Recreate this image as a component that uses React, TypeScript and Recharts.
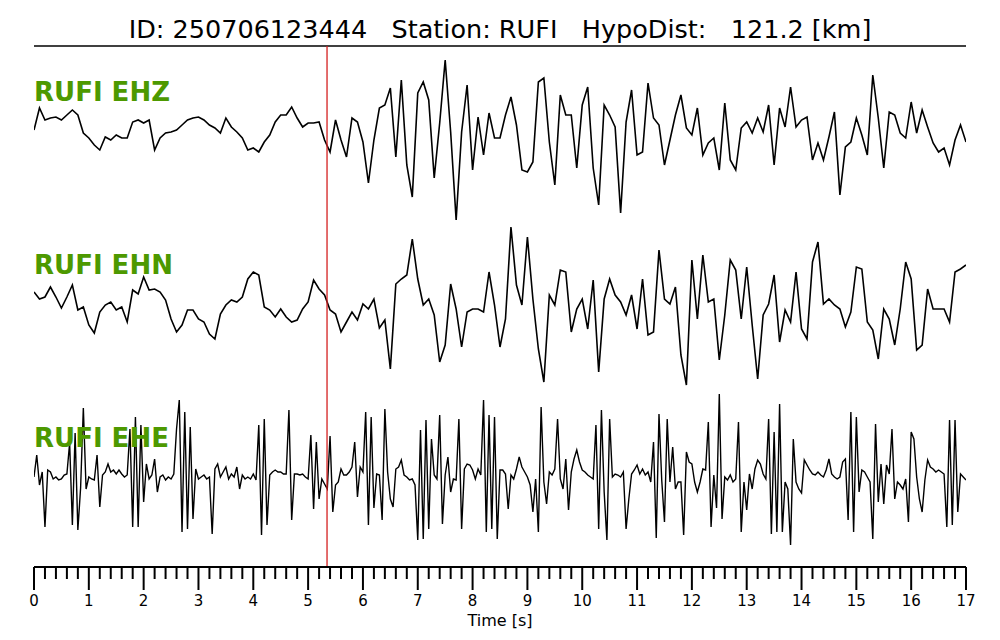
import React from 'react';
import { LineChart, Line, XAxis, YAxis, ReferenceLine } from 'recharts';

const titleText = 'ID: 250706123444   Station: RUFI   HypoDist:   121.2 [km]';
const traceLabels = ['RUFI EHZ', 'RUFI EHN', 'RUFI EHE'];
const pickTime = 5.345;
const majorTicks = [0, 1, 2, 3, 4, 5, 6, 7, 8, 9, 10, 11, 12, 13, 14, 15, 16, 17];
const minorOffsets = [0.2, 0.4, 0.6, 0.8];

// sample spacing (s) of the values
const dtZ = 0.1;
const dtN = 0.1;
const dtE = 0.05;

// amplitudes, arbitrary units (up is positive)
const ehz = [
  5, 27, 15, 17, 18, 15, 20, 25, 20, 2,
  -3, -10, -15, -2, -5, 0, -3, -3, 13, 15,
  12, 15, -15, -3, 2, 3, 5, 10, 15, 17,
  18, 15, 10, 7, 2, 17, 8, 3, -3, -15,
  -13, -17, -7, 0, 13, 20, 20, 28, 17, 8,
  12, 12, 13, -5, -17, 15, -5, -22, 17, 13,
  -7, -48, -5, 27, 30, 47, -22, 55, -30, -62,
  42, 53, 35, -43, 12, 75, 3, -85, 3, 50,
  -35, 18, -20, 22, -3, -3, 20, 38, 10, -35,
  -37, -27, 53, 57, -7, -50, 40, 20, 20, -33,
  30, 48, -33, -70, 30, 20, 8, -78, 13, 45,
  -20, -17, 52, 17, 10, -30, -5, 20, 40, 7,
  0, 27, -20, -8, -3, -35, 32, -25, -35, 7,
  13, 2, 17, 3, 30, -30, 27, 8, 48, 8,
  15, 18, -25, -8, -25, -2, 23, -60, -12, -7,
  17, 0, -20, 60, 17, -33, 23, 20, 2, -3,
  33, 2, 25, 8, -8, -17, -13, -30, -5, 10,
  -7,
];

const ehn = [
  8, 1, 3, 13, 3, -8, 3, 15, -10, -7,
  -25, -33, -12, -5, -2, -10, -7, -22, 10, 6,
  23, 10, 11, 8, 0, -19, -32, -25, -10, -10,
  -19, -22, -34, -39, -14, -5, 0, -2, 3, 21,
  28, 25, -7, -10, -17, -9, -17, -22, -20, -9,
  -2, 20, 11, 5, -10, -14, -32, -22, -12, -20,
  -4, -9, 1, -28, -20, -69, 16, 21, 25, 61,
  21, -5, 1, -15, -62, -45, 16, -9, -47, -12,
  -9, -9, -12, 28, -5, -47, -19, 73, 15, -5,
  63, 1, -49, -82, 5, -5, 30, 28, -32, -9,
  1, -29, 20, -72, 1, 21, 5, -2, -15, 5,
  -29, 21, -35, -32, 50, 1, -4, 13, -55, -85,
  40, -19, 45, -2, 1, -60, -15, 40, 30, -19,
  33, -25, -79, -15, -4, 25, -42, -10, -22, 28,
  -29, -39, 38, 58, -4, 1, -5, -9, -27, -12,
  33, 31, -22, -30, -59, -9, -19, -45, -9, 38,
  21, -50, -45, 11, -9, -9, -9, -22, 28, 31,
  35,
];

const ehe = [
  1, 23, -7, 6, -49, 8, 6, -1, 1, -2,
  -1, 3, 4, 35, -47, 45, -52, -10, 70, -11,
  1, -1, -2, 23, -29, 3, 6, 14, 6, 8,
  4, 8, 4, 1, 3, 49, -49, 61, -49, 53,
  -24, 14, -1, 3, 19, -14, 1, 3, -2, 1,
  -1, 4, 49, 78, -54, 66, -51, 51, -41, 9,
  -1, 1, 3, -1, 1, -56, 9, 14, 1, 6,
  11, -1, 4, 1, 11, -11, 3, -1, 1, -1,
  4, -2, 53, -57, 59, -47, 3, 6, 8, 6,
  6, 4, 4, 68, -42, 4, 4, 3, 4, 1,
  -1, 43, -31, 36, -21, -1, -6, -11, 42, -34,
  -7, -4, 9, 3, 3, 6, 11, 36, -19, 11,
  6, 66, -47, 61, -30, 4, 3, -42, 69, 6,
  -21, -29, 9, 11, 18, 3, 1, -2, -1, -7,
  -62, 48, -61, 58, -51, 39, 3, -1, 63, -46,
  3, 21, -14, -1, -2, 59, -51, 9, 14, 13,
  8, -1, 9, 3, 78, -54, 63, -51, 61, -61,
  8, 8, 4, -31, 3, -1, 9, 21, 11, 6,
  1, -7, -34, -1, -54, 71, -4, -26, 6, 3,
  9, 59, -1, -11, 19, -32, 6, 19, 28, 16,
  8, 6, 3, 1, -1, 53, -51, 68, -14, -62,
  59, 1, 4, 3, 1, 6, -51, -21, 4, 8,
  13, 4, 9, 3, 6, -4, 36, -60, 64, -2,
  -44, 59, -4, 31, -11, -4, -4, -57, 26, 16,
  14, -4, -14, -4, 9, 8, 56, -49, 3, -30,
  84, -41, 1, -2, 3, -4, -1, 56, -54, -4,
  -32, 4, -11, 9, 18, 14, 4, -1, 59, -56,
  46, -54, 74, -54, -4, -11, -67, 39, -4, -11,
  -15, 18, 13, 8, 4, 3, 6, 3, 1, 8,
  19, 4, 1, -1, 1, 16, 19, -42, 66, -54,
  61, -14, 8, 6, 1, -4, -61, 54, -24, 14,
  -26, 13, 4, 49, -21, -4, -7, -11, -1, -44,
  46, 39, 1, -21, -34, -2, 18, 11, 9, 6,
  8, 6, 4, -49, 58, -47, 58, -34, 4, 1,
  -2,
];

const toSeries = (vals: number[], dt: number) =>
  vals.map((v, i) => ({ t: Math.round(i * dt * 1000) / 1000, v }));

const zData = toSeries(ehz, dtZ);
const nData = toSeries(ehn, dtN);
const eData = toSeries(ehe, dtE);

const timeTicks = majorTicks.flatMap((m) =>
  m === 17 ? [m] : [m, ...minorOffsets.map((o) => Math.round((m + o) * 10) / 10)]
);

const font = 'DejaVu Sans, sans-serif';

const TimeTick = (props: any) => {
  const { x, y, payload } = props;
  const val = payload.value;
  const major = Math.abs(val - Math.round(val)) < 1e-6;
  return (
    <g>
      <line x1={x} x2={x} y1={y} y2={y + (major ? 23 : 12)} stroke="#000" strokeWidth={2} />
      {major && (
        <text x={x} y={y + 39} textAnchor="middle" fontSize={15} fontFamily={font} fill="#000">
          {Math.round(val)}
        </text>
      )}
    </g>
  );
};

export default function App() {
  return (
    <div style={{ position: 'absolute', left: 0, top: 0, width: 1000, height: 640, background: '#fff' }}>
      <LineChart width={1000} height={640} margin={{ top: 46, right: 34, bottom: 13, left: 34 }}>
        <XAxis
          dataKey="t"
          type="number"
          domain={[0, 17]}
          allowDataOverflow
          ticks={timeTicks}
          interval={0}
          tick={TimeTick}
          tickLine={false}
          tickSize={0}
          tickMargin={0}
          height={60}
          axisLine={{ stroke: '#000', strokeWidth: 2 }}
          label={{ value: 'Time [s]', position: 'insideBottom', offset: 1, fontSize: 16, fill: '#000', fontFamily: font }}
        />
        <YAxis yAxisId="z" type="number" domain={[-432, 89]} allowDataOverflow hide />
        <YAxis yAxisId="n" type="number" domain={[-267, 254]} allowDataOverflow hide />
        <YAxis yAxisId="e" type="number" domain={[-89, 432]} allowDataOverflow hide />
        <ReferenceLine yAxisId="e" y={432} stroke="#000" strokeWidth={1.5} />
        <Line yAxisId="z" data={zData} dataKey="v" type="linear" stroke="#000" strokeWidth={1.6} dot={false} isAnimationActive={false} />
        <Line yAxisId="n" data={nData} dataKey="v" type="linear" stroke="#000" strokeWidth={1.6} dot={false} isAnimationActive={false} />
        <Line yAxisId="e" data={eData} dataKey="v" type="linear" stroke="#000" strokeWidth={1.4} dot={false} isAnimationActive={false} />
        <ReferenceLine yAxisId="e" x={pickTime} stroke="#d42020" strokeWidth={1.3} />
      </LineChart>
      <svg width={1000} height={640} style={{ position: 'absolute', left: 0, top: 0, pointerEvents: 'none' }}>
        <text x={500} y={38} textAnchor="middle" fontSize={25.5} fontFamily={font} fill="#000" style={{ whiteSpace: 'pre' }}>
          {titleText}
        </text>
        {traceLabels.map((lbl, i) => (
          <text key={lbl} x={34} y={[101, 274, 447][i]} fontSize={26} fontWeight="bold" fontFamily={font} fill="#4d9900">
            {lbl}
          </text>
        ))}
      </svg>
    </div>
  );
}
